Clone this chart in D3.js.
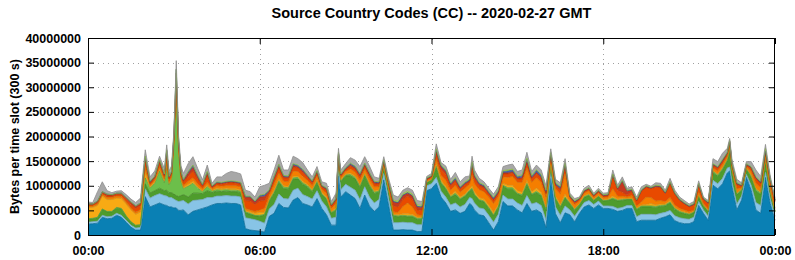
<!DOCTYPE html>
<html>
<head>
<meta charset="utf-8">
<script src="https://cdn.jsdelivr.net/npm/d3@7"></script>
<style>
  html, body { margin: 0; padding: 0; background: #fff; }
  svg { display: block; font-family: "Liberation Sans", Arial, sans-serif; }
  .tick text { font-weight: bold; font-size: 12.5px; fill: #000; }
</style>
</head>
<body>
<div id="chart"></div>
<script>
// Source country codes, bytes per 300 s slot, values in millions of bytes.
// Times are minutes after 00:00 GMT; layers listed bottom to top.
const times = [
  0,10,20,30,40,50,60,70,80,90,100,110,
  120,130,140,150,160,
  165,170,175,180,185,190,195,
  200,210,220,230,240,250,260,270,280,290,300,310,320,
  330,340,350,360,370,380,390,400,410,420,430,440,450,460,470,480,490,500,510,520,
  525,
  530,540,550,560,570,580,590,600,610,620,630,640,650,660,670,680,690,700,
  710,720,730,740,750,760,770,780,790,800,
  805,
  810,820,830,840,850,860,870,880,890,900,910,920,930,940,950,960,970,980,990,1000,
  1010,1020,1030,1040,1050,1060,1070,1080,1090,1100,1110,1120,1130,1140,1150,1160,1170,1180,1190,1200,
  1210,1220,1230,1240,1250,1260,1270,1280,1290,1300,1310,1320,1330,1340,
  1345,
  1350,1360,1370,1380,1390,1400,1410,1420,1430,1440
];

const darkBlue = [
  2.2,2.3,2.4,3.6,3.3,3.4,4.0,3.6,2.6,1.6,1.0,1.0,
  7.8,5.7,6.1,6.5,6.1,
  6.0,5.7,5.7,5.5,5.5,5.0,5.0,
  5.1,4.1,4.8,5.1,5.4,5.7,6.1,6.4,6.4,6.5,6.4,6.4,6.1,
  1.3,1.0,0.9,0.8,0.6,3.8,4.4,6.4,5.6,5.5,7.1,7.6,6.4,6.1,5.7,7.4,5.4,4.1,2.0,2.0,
  12.0,
  7.7,8.8,8.1,7.4,5.4,8.1,5.9,4.8,5.7,11.2,6.1,1.0,1.0,1.1,1.0,1.0,0.7,0.7,
  9.0,9.4,10.5,7.7,6.5,4.8,5.1,4.4,4.8,6.4,
  6.0,
  5.1,4.1,3.9,2.5,1.0,2.7,6.8,5.9,5.9,5.1,4.5,6.4,4.8,5.1,4.5,1.5,11.5,4.3,2.5,4.5,
  4.1,2.7,4.4,5.7,6.1,5.4,6.1,5.4,5.4,5.2,4.8,5.0,5.4,5.4,2.7,3.0,3.0,3.0,3.0,3.4,
  3.7,4.1,2.9,2.5,2.3,2.3,2.7,6.0,4.4,3.0,10.1,9.4,10.4,12.6,
  13.0,
  9.8,5.1,7.1,11.7,9.1,5.1,4.4,11.7,6.4,3.0
];
const lightBlue = [
  0.4,0.4,0.4,0.4,0.4,0.4,0.4,0.4,0.4,0.4,0.4,0.5,
  1.6,1.8,1.9,1.9,1.9,
  1.9,1.9,1.9,1.8,1.5,1.8,1.9,
  1.9,2.2,2.2,2.0,1.8,1.9,1.5,1.5,1.5,1.5,1.5,1.5,1.6,
  2.2,2.3,2.2,2.0,1.8,1.5,1.8,1.9,1.8,1.8,2.0,1.9,1.8,1.7,1.6,1.6,1.5,1.6,1.4,1.6,
  1.5,
  1.5,1.5,1.6,1.7,1.8,1.7,1.8,1.7,1.5,1.3,1.4,1.5,1.5,1.5,1.5,1.5,1.4,1.4,
  1.0,1.0,1.2,1.2,1.2,1.3,1.4,1.3,1.4,1.2,
  1.4,
  1.4,1.4,1.4,1.5,1.6,1.5,1.3,1.4,1.4,1.4,1.5,1.6,1.5,1.5,1.5,1.5,1.0,1.4,1.5,1.4,
  1.0,1.1,0.8,0.9,0.9,0.8,0.8,0.5,0.5,0.6,0.6,0.6,0.6,0.6,1.0,1.2,1.2,1.2,1.1,1.0,
  0.9,0.9,1.0,1.0,1.0,0.9,0.9,0.8,0.7,0.8,1.0,1.0,1.1,1.0,
  0.8,
  0.9,1.2,0.8,0.6,1.0,1.5,1.6,1.0,1.0,0.8
];
const green = [
  0.6,0.6,0.7,1.2,1.0,0.9,1.1,1.3,0.8,0.6,0.5,0.5,
  1.0,1.0,1.0,1.1,1.0,
  1.2,1.0,1.0,1.0,1.0,1.0,1.1,
  1.2,1.4,1.5,1.4,1.2,1.4,1.0,1.0,0.9,0.9,0.9,0.9,0.9,
  1.0,0.9,0.8,1.0,1.6,1.6,2.2,2.4,2.0,2.0,2.2,1.9,2.1,1.9,1.5,1.6,1.3,1.5,1.0,1.4,
  1.8,
  1.6,1.7,2.3,2.3,2.4,2.2,2.2,1.9,1.5,1.2,1.4,1.3,1.2,1.2,1.2,1.2,1.1,1.1,
  0.6,0.7,2.0,1.6,1.6,1.5,1.7,1.5,1.6,1.3,
  1.8,
  1.6,1.5,1.4,1.4,1.3,1.4,1.8,2.0,2.0,1.8,1.9,2.2,1.8,2.0,1.9,1.9,1.4,1.6,1.6,1.6,
  1.2,1.2,0.9,1.0,1.0,0.8,0.9,1.0,1.1,1.5,1.5,1.4,1.2,1.2,1.4,1.5,1.5,1.5,1.5,1.4,
  1.3,1.5,1.3,1.1,1.0,0.9,0.9,1.0,0.8,0.9,1.5,1.5,1.7,1.5,
  3.5,
  2.2,1.8,1.1,1.0,1.6,2.3,2.2,2.3,1.3,0.9
];
const lightGreen = [
  0.1,0.1,0.1,0.1,0.1,0.1,0.1,0.1,0.1,0.1,0.1,0.1,
  1.2,1.0,1.5,3.5,1.6,
  4.5,1.6,2.6,9.5,20.8,8.8,2.8,
  1.2,2.2,2.0,1.0,0.4,0.8,0.3,0.3,0.3,0.3,0.3,0.3,0.3,
  0.2,0.2,0.1,0.2,0.2,0.2,0.3,0.3,0.3,0.3,0.3,0.3,0.3,0.3,0.2,0.3,0.2,0.2,0.2,0.2,
  0.2,
  0.2,0.2,0.3,0.3,0.3,0.3,0.3,0.3,0.2,0.2,0.2,0.2,0.2,0.2,0.2,0.2,0.2,0.2,
  0.1,0.1,0.3,0.2,0.2,0.2,0.3,0.2,0.2,0.2,
  0.3,
  0.2,0.2,0.2,0.2,0.2,0.2,0.2,0.3,0.3,0.2,0.3,0.3,0.2,0.3,0.3,0.3,0.2,0.2,0.2,0.2,
  0.2,0.2,0.1,0.2,0.2,0.1,0.1,0.1,0.1,0.2,0.2,0.2,0.1,0.1,0.2,0.2,0.2,0.2,0.2,0.2,
  0.2,0.2,0.2,0.2,0.2,0.2,0.2,0.2,0.1,0.2,0.3,0.3,0.3,0.2,
  0.3,
  0.2,0.3,0.2,0.2,0.3,0.3,0.3,0.3,0.2,0.1
];
const yellow = [
  2.3,2.2,2.4,2.6,2.4,2.4,1.9,2.0,2.4,2.4,2.2,2.6,
  1.2,0.3,0.3,0.4,0.4,
  0.6,0.3,0.3,0.6,0.8,0.5,0.4,
  0.3,0.4,0.4,0.3,0.2,0.3,0.2,0.3,0.3,0.3,0.3,0.3,0.3,
  0.3,0.3,0.4,0.6,0.4,0.2,0.4,0.4,0.3,0.3,0.4,0.3,0.3,0.3,0.3,0.3,0.3,0.3,0.2,0.3,
  0.2,
  0.2,0.2,0.3,0.3,0.4,0.3,0.3,0.3,0.3,0.2,0.3,0.2,0.2,0.3,0.4,0.3,0.2,0.2,
  0.1,0.1,0.4,0.4,0.4,0.3,0.4,0.3,0.3,0.3,
  0.5,
  0.5,0.4,0.4,0.5,0.5,0.4,0.4,0.5,0.5,0.5,0.5,0.6,0.5,0.6,0.5,0.5,0.3,0.4,0.5,0.6,
  0.2,0.2,0.2,0.2,0.2,0.1,0.1,0.2,0.2,0.4,0.2,0.2,0.1,0.2,0.2,0.2,0.3,0.5,0.3,0.3,
  0.2,0.3,0.2,0.2,0.2,0.1,0.1,0.2,0.1,0.1,0.2,0.2,0.2,0.2,
  0.2,
  0.2,0.2,0.1,0.1,0.2,0.3,0.2,0.2,0.2,0.1
];
const orange = [
  0.3,0.3,0.3,0.3,0.4,0.4,0.4,0.4,0.4,0.4,0.4,0.5,
  1.0,0.3,0.4,0.5,0.4,
  0.5,0.4,0.4,0.4,0.4,0.4,0.4,
  0.4,0.6,0.7,0.6,0.4,0.6,0.3,0.5,0.5,0.5,0.6,0.6,0.6,
  0.4,0.4,0.4,0.5,0.8,0.7,1.2,1.2,0.9,0.9,1.0,0.9,1.0,0.8,0.7,0.8,0.6,0.8,0.6,0.9,
  0.4,
  0.5,0.5,0.8,0.8,0.9,0.8,0.9,0.8,0.6,0.4,0.6,0.5,0.5,1.5,2.2,1.5,0.5,0.4,
  0.2,0.2,1.0,1.0,1.2,1.0,1.2,1.0,1.2,0.9,
  2.2,
  1.6,1.6,1.5,1.6,1.8,1.6,1.3,1.6,1.8,1.7,2.0,2.5,1.9,2.1,2.0,2.0,1.2,1.5,2.0,4.2,
  0.7,0.8,0.5,0.5,0.6,0.4,0.5,0.4,0.4,1.5,0.6,0.5,0.3,0.5,0.4,0.6,1.5,1.2,0.8,0.7,
  0.5,0.6,0.5,0.4,0.4,0.3,0.3,0.6,0.3,0.3,0.5,0.6,0.6,0.5,
  0.5,
  0.4,0.8,0.3,0.3,0.7,1.0,0.9,0.7,0.8,0.5
];
const redOrange = [
  0.2,0.2,0.3,0.3,0.3,0.3,0.3,0.4,0.5,0.7,0.8,0.8,
  1.2,0.4,0.4,0.8,0.5,
  1.3,0.5,0.5,0.7,1.5,0.8,0.6,
  0.6,1.0,1.4,0.9,0.5,1.3,0.3,0.4,0.4,0.5,0.6,0.5,0.5,
  1.6,1.8,1.4,1.8,1.6,0.7,0.9,1.0,0.7,0.7,0.8,0.7,0.8,0.6,0.6,0.6,0.5,0.6,0.5,0.6,
  0.3,
  0.4,0.4,0.6,0.6,0.7,0.6,0.7,0.6,0.5,0.4,0.5,1.2,1.1,1.4,1.4,1.5,1.0,1.0,
  0.3,0.3,1.0,1.2,1.2,0.8,0.8,0.6,0.7,0.5,
  1.5,
  1.0,0.8,0.7,0.6,0.6,0.6,0.6,0.7,0.7,0.6,0.7,1.0,0.7,0.8,0.8,0.7,0.5,0.6,0.8,1.3,
  0.3,0.4,0.3,0.3,0.3,0.3,0.3,0.3,0.3,2.5,1.2,0.8,0.4,0.8,1.0,2.2,2.0,1.8,2.8,2.6,
  1.6,2.8,2.2,1.6,1.2,1.0,1.0,1.4,0.8,1.1,0.5,0.5,0.6,0.5,
  0.6,
  0.5,0.8,0.3,0.3,0.6,0.9,0.8,0.6,1.2,1.4
];
const darkRed = [
  0.2,0.2,0.2,0.2,0.3,0.2,0.2,0.2,0.3,0.4,0.4,0.4,
  0.6,0.2,0.2,0.3,0.3,
  1.0,0.3,0.3,0.5,1.4,0.5,0.4,
  0.3,0.6,0.7,0.5,0.2,0.6,0.1,0.2,0.2,0.2,0.2,0.2,0.2,
  0.6,0.7,0.5,0.8,0.8,0.2,0.3,0.3,0.2,0.2,0.3,0.2,0.3,0.2,0.2,0.2,0.1,0.2,0.1,0.2,
  0.1,
  0.1,0.1,0.2,0.2,0.2,0.2,0.2,0.2,0.2,0.1,0.1,0.8,0.8,0.8,0.6,0.7,0.6,0.6,
  0.1,0.1,0.5,0.5,0.5,0.3,0.3,0.2,0.2,0.2,
  0.6,
  0.4,0.3,0.3,0.2,0.2,0.2,0.2,0.2,0.2,0.2,0.2,0.3,0.2,0.3,0.2,0.2,0.2,0.2,0.3,0.4,
  0.1,0.1,0.1,0.1,0.1,0.1,0.1,0.1,0.1,0.3,0.3,2.2,0.8,0.3,0.1,0.1,0.1,0.1,0.2,0.2,
  0.1,0.2,0.1,0.1,0.1,0.1,0.1,0.1,0.1,0.1,0.2,0.2,0.2,0.1,
  0.1,
  0.1,0.2,0.1,0.1,0.2,0.2,0.2,0.2,0.2,0.2
];
const blue = [
  0,0,0.1,0.1,0.1,0.1,0.1,0.1,0.1,0.1,0.1,0.1,
  0.3,0.1,0.1,0.2,0.1,
  0.2,0.1,0.1,0.2,0.7,0.2,0.2,
  0.2,0.3,0.4,0.2,0.1,0.2,0.1,0.1,0.1,0.1,0.1,0.1,0.1,
  0.2,0.2,0.1,0.3,0.4,0.2,0.3,0.4,0.2,0.2,0.3,0.3,0.3,0.2,0.1,0.2,0.1,0.2,0.1,0.2,
  0.2,
  0.1,0.2,0.3,0.3,0.3,0.3,0.3,0.2,0.2,0.2,0.2,0.1,0.1,0.1,0.1,0.1,0.1,0.1,
  0.1,0.1,0.4,0.2,0.3,0.2,0.3,0.2,0.2,0.2,
  0.4,
  0.3,0.2,0.2,0.2,0.3,0.3,0.3,0.4,0.4,0.3,0.4,0.5,0.3,0.4,0.4,0.3,0.3,0.3,0.3,0.3,
  0.1,0.1,0.1,0.1,0.1,0.1,0.1,0.1,0.1,0.1,0.1,0.1,0.1,0.1,0.1,0.1,0.1,0.1,0.1,0.1,
  0.1,0.1,0.1,0.1,0.1,0.1,0.1,0.1,0.1,0.1,0.1,0.1,0.1,0.1,
  0.1,
  0.1,0.1,0.1,0.1,0.1,0.1,0.1,0.1,0.1,0.1
];
const lime = [
  0,0,0,0,0,0,0,0,0,0,0,0,
  0.1,0.1,0.1,0.1,0.1,
  0.1,0.1,0.1,0.1,0.1,0.1,0.1,
  0.1,0.1,0.1,0.1,0.1,0.1,0.1,0.1,0.1,0.1,0.1,0.1,0.1,
  0.1,0.1,0.1,0.1,0.1,0.1,0.1,0.1,0.1,0.1,0.1,0.1,0.1,0.1,0.1,0.1,0.1,0.1,0.1,0.1,
  0.1,
  0.1,0.1,0.1,0.1,0.1,0.1,0.1,0.1,0.1,0.1,0.1,0.3,0.3,0.3,0.3,0.3,0.3,0.3,
  0.1,0.1,0.2,0.2,0.2,0.2,0.2,0.2,0.2,0.2,
  0.2,
  0.2,0.2,0.2,0.2,0.2,0.2,0.2,0.2,0.2,0.2,0.2,0.2,0.2,0.2,0.2,0.2,0.2,0.2,0.2,0.2,
  0.2,0.2,0.1,0.1,0.1,0.1,0.1,0.1,0.1,0.1,0.1,0.1,0.1,0.1,0.1,0.1,0.1,0.1,0.1,0.1,
  0.1,0.1,0.1,0.1,0.1,0.1,0.1,0.1,0.1,0.1,0.1,0.1,0.2,0.1,
  0.1,
  0.1,0.1,0.1,0.1,0.1,0.2,0.2,0.5,0.1,0.1
];
const grey = [
  0.4,0.3,1.9,2.0,0.7,0.4,0.4,0.5,0.6,0.6,0.7,1.0,
  1.3,0.9,1.0,0.7,1.1,
  1.0,1.1,1.1,0.7,1.7,0.9,1.1,
  1.2,1.6,1.7,1.4,0.9,1.3,0.5,1.0,1.1,1.6,1.9,1.8,1.7,
  1.2,0.9,0.8,1.7,1.8,1.3,1.3,1.8,1.1,1.2,1.5,1.3,1.3,1.0,0.8,0.8,0.7,0.9,0.6,1.0,
  0.8,
  0.8,0.8,1.1,1.2,1.4,1.3,1.3,0.9,0.7,0.6,0.6,1.0,0.8,0.7,0.7,0.8,0.9,0.8,
  0.3,0.4,1.0,0.5,0.7,0.7,1.0,0.9,1.0,0.6,
  1.1,
  0.9,0.8,0.6,0.6,0.6,0.7,0.8,1.0,1.0,0.9,1.0,1.2,0.8,0.9,0.9,0.9,0.7,0.6,0.7,0.8,
  0.4,0.4,0.2,0.4,0.5,0.3,0.4,0.3,0.3,0.8,0.5,0.7,0.4,0.5,0.5,0.6,0.3,0.2,0.5,0.5,
  0.4,0.7,0.5,0.4,0.4,0.3,0.4,0.5,0.2,0.3,1.0,1.0,1.2,0.8,
  0.4,
  0.7,0.7,0.4,0.4,1.0,1.3,1.0,0.8,0.5,0.3
];

const layerValues = [darkBlue, lightBlue, green, lightGreen, yellow, orange, redOrange, darkRed, blue, lime, grey];
const layerColors = ["#0a80b4", "#88c4e6", "#4e9c2c", "#6cbf4a", "#f8aa14", "#f57e00", "#e84a00", "#c43a20", "#4466ae", "#a8e04c", "#a8a8a8"];

const yTicks = [0, 5, 10, 15, 20, 25, 30, 35, 40];
const xTicks = [0, 360, 720, 1080, 1440];
const xTickLabels = ["00:00", "06:00", "12:00", "18:00", "00:00"];

const title = "Source Country Codes (CC) -- 2020-02-27 GMT";
const yTitle = "Bytes per time slot (300 s)";

const W = 795, H = 260;
const margin = { top: 38, right: 20, bottom: 25, left: 88 };

layerValues.forEach((a, i) => {
  if (a.length !== times.length) console.warn("layer", i, "has", a.length, "values, expected", times.length);
});

const keys = layerValues.map((_, i) => "k" + i);
const rows = times.map((t, j) => {
  const r = { t };
  layerValues.forEach((a, i) => { r[keys[i]] = a[j] || 0; });
  return r;
});

const svg = d3.select("#chart").append("svg")
  .attr("width", W).attr("height", H)
  .attr("viewBox", `0 0 ${W} ${H}`);

const x = d3.scaleLinear().domain([0, 1440]).range([margin.left, W - margin.right]);
const y = d3.scaleLinear().domain([0, 40]).range([H - margin.bottom, margin.top]);

// dotted grid behind the data
const grid = svg.append("g").attr("stroke", "#a0a0a0").attr("stroke-width", 1)
  .attr("stroke-dasharray", "1,4");
grid.selectAll("line.h").data(yTicks.slice(1, -1)).join("line")
  .attr("x1", x(0)).attr("x2", x(1440))
  .attr("y1", d => Math.round(y(d)) + 0.5).attr("y2", d => Math.round(y(d)) + 0.5);
grid.selectAll("line.v").data(xTicks.slice(1, -1)).join("line")
  .attr("y1", y(0)).attr("y2", y(40))
  .attr("x1", d => Math.round(x(d)) + 0.5).attr("x2", d => Math.round(x(d)) + 0.5);

const stacked = d3.stack().keys(keys)(rows);

const area = d3.area().x(d => x(d.data.t)).y0(d => y(d[0])).y1(d => y(d[1]));
const topLine = d3.line().x(d => x(d.data.t)).y(d => y(d[1]));

svg.append("g").selectAll("path").data(stacked).join("path")
  .attr("fill", (d, i) => layerColors[i])
  .attr("d", area);
svg.append("g").selectAll("path").data(stacked).join("path")
  .attr("fill", "none")
  .attr("stroke", (d, i) => d3.color(layerColors[i]).darker(0.5))
  .attr("stroke-width", 0.8)
  .attr("d", topLine);

// border and inward ticks on all four sides
const fmtY = v => d3.format("d")(v * 1e6);
const x0 = x(0), x1 = x(1440), y0 = y(0), y1 = y(40);

svg.append("g").attr("transform", `translate(${x0},0)`)
  .call(d3.axisLeft(y).tickValues(yTicks).tickSize(-6).tickPadding(7).tickFormat(fmtY))
  .call(s => s.select(".domain").remove())
  .call(s => s.selectAll("line").attr("stroke", "#000"));
svg.append("g").attr("transform", `translate(${x1},0)`)
  .call(d3.axisRight(y).tickValues(yTicks).tickSize(-6).tickFormat(""))
  .call(s => s.select(".domain").remove())
  .call(s => s.selectAll("line").attr("stroke", "#000"));
svg.append("g").attr("transform", `translate(0,${y0})`)
  .call(d3.axisBottom(x).tickValues(xTicks).tickSize(-6).tickPadding(11)
    .tickFormat((d, i) => xTickLabels[i]))
  .call(s => s.select(".domain").remove())
  .call(s => s.selectAll("line").attr("stroke", "#000"));
svg.append("g").attr("transform", `translate(0,${y1})`)
  .call(d3.axisTop(x).tickValues(xTicks).tickSize(-6).tickFormat(""))
  .call(s => s.select(".domain").remove())
  .call(s => s.selectAll("line").attr("stroke", "#000"));

svg.append("rect")
  .attr("x", x0 + 0.5).attr("y", y1 + 0.5)
  .attr("width", x1 - x0 - 1).attr("height", y0 - y1)
  .attr("fill", "none").attr("stroke", "#000").attr("stroke-width", 1);

svg.append("text")
  .attr("x", (x0 + x1) / 2).attr("y", 18)
  .attr("text-anchor", "middle")
  .attr("font-weight", "bold").attr("font-size", 14.5)
  .text(title);

svg.append("text")
  .attr("transform", `translate(19,${(y0 + y1) / 2}) rotate(-90)`)
  .attr("text-anchor", "middle")
  .attr("font-weight", "bold").attr("font-size", 12.5)
  .text(yTitle);
</script>
</body>
</html>
